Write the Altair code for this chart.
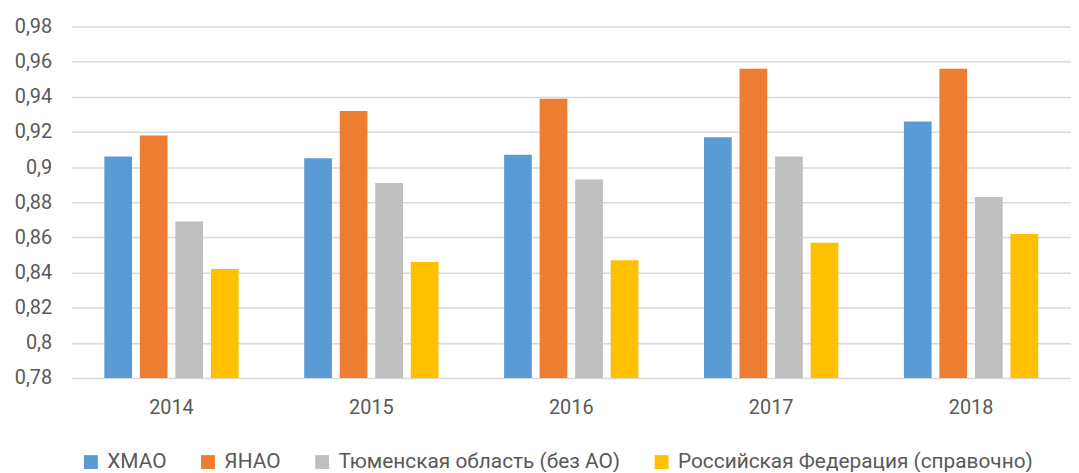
import altair as alt
import pandas as pd

years = ["2014", "2015", "2016", "2017", "2018"]
series = ["ХМАО", "ЯНАО", "Тюменская область (без АО)", "Российская Федерация (справочно)"]
hmao = [0.906, 0.905, 0.907, 0.917, 0.926]
yanao = [0.918, 0.932, 0.939, 0.956, 0.956]
tyumen = [0.869, 0.891, 0.893, 0.906, 0.883]
rf = [0.842, 0.846, 0.847, 0.857, 0.862]
colors = ["#5B9BD5", "#ED7D31", "#BFBFBF", "#FFC000"]
y_ticks = [0.78, 0.80, 0.82, 0.84, 0.86, 0.88, 0.90, 0.92, 0.94, 0.96, 0.98]

rows = []
for name, vals in zip(series, [hmao, yanao, tyumen, rf]):
    for yr, v in zip(years, vals):
        rows.append({"year": yr, "series": name, "value": v})
df = pd.DataFrame(rows)

FONT = "Roboto"
TXT = "#595959"

chart = alt.Chart(df).mark_bar().encode(
    x=alt.X("year:N", sort=years, title=None,
            scale=alt.Scale(paddingInner=0.289, paddingOuter=0.1445),
            axis=alt.Axis(labelAngle=0, ticks=False, domain=False, labelPadding=20,
                          labelFontSize=20, labelColor=TXT, labelFont=FONT)),
    xOffset=alt.XOffset("series:N", sort=series,
                        scale=alt.Scale(paddingInner=0.22, paddingOuter=0.11)),
    y=alt.Y("value:Q", title=None,
            scale=alt.Scale(domain=[0.78, 0.98], zero=False, nice=False),
            axis=alt.Axis(values=y_ticks, ticks=False, domain=False, labelPadding=20,
                          labelFontSize=20, labelColor=TXT, labelFont=FONT,
                          gridColor="#D9D9D9", gridWidth=1.5,
                          labelExpr="replace(format(datum.value, '.2~f'), '.', ',')")),
    y2=alt.datum(0.78),
    color=alt.Color("series:N", sort=series, title=None,
                    scale=alt.Scale(domain=series, range=colors),
                    legend=alt.Legend(orient="none", direction="horizontal",
                                      legendX=9, legendY=428, symbolType="square",
                                      symbolSize=196, symbolStrokeWidth=0,
                                      labelFontSize=21, labelColor=TXT, labelFont=FONT,
                                      labelLimit=500, columnPadding=31, padding=0,
                                      labelOffset=6)),
).properties(
    width=1007, height=354,
    autosize=alt.AutoSizeParams(type="none"),
    padding={"left": 64, "top": 17, "right": 0, "bottom": 93},
).configure_view(stroke=None)

chart.save("out.html", embed_options={"renderer": "svg", "actions": False})
